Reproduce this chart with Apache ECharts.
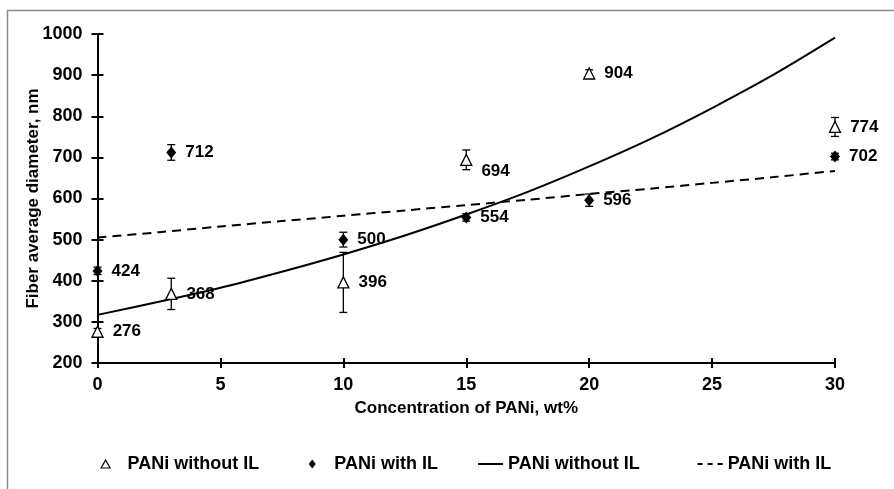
<!DOCTYPE html>
<html>
<head>
<meta charset="utf-8">
<script src="https://cdn.jsdelivr.net/npm/echarts@6/dist/echarts.min.js"></script>
<style>
  html, body { margin: 0; padding: 0; background: #fff; }
  #chart { width: 894px; height: 489px; }
</style>
</head>
<body>
<div id="chart"></div>
<script>
// PANi concentration (wt%) for each measured sample
const concentration = [0, 3, 10, 15, 20, 30];

// Mean fiber diameter, nm
const withoutIL = [276, 368, 396, 694, 904, 774];
const withIL = [424, 712, 500, 554, 596, 702];

// Standard deviation (half length of each error bar), nm
const withoutILErr = [8, 38, 73, 24, 9, 23];
const withIL_Err = [9, 19, 18, 9, 15, 8];

// Trend curves, read along the concentration axis
const trendX = [0, 2.5, 5, 7.5, 10, 12.5, 15, 17.5, 20, 22.5, 25, 27.5, 30];
const trendWithoutIL = [317, 349, 383, 422, 464, 510, 561, 616, 678, 745, 820, 901, 991];
const trendWithIL = [505, 518, 532, 545, 558, 571, 584, 597, 611, 624, 638, 652, 667];

// Axis ticks
const xTicks = { min: 0, max: 30, interval: 5 };
const yTicks = { min: 200, max: 1000, interval: 100 };

const FONT = 'Liberation Sans';
const pairs = (xs, ys) => xs.map((x, i) => [x, ys[i]]);
const errRows = (xs, ys, es) => xs.map((x, i) => [x, ys[i] - es[i], ys[i] + es[i]]);

const legendText = {
  'PANi without IL': 'PANi without IL',
  'PANi with IL': 'PANi with IL',
  'PANi without IL trend': 'PANi without IL',
  'PANi with IL trend': 'PANi with IL'
};

// Legend icons drawn in a fixed 25x10 box (corner points pin the box size)
const BOX = 'M0,0L0,0M25,10L25,10';
const ICON_TRIANGLE = 'path://' + BOX + 'M8,1L12.5,9L3.5,9Z';
const ICON_DIAMOND = 'path://' + BOX + 'M8,0.5L11.5,5L8,9.5L4.5,5Z';
const ICON_SOLID = 'path://' + BOX + 'M0,4L25,4L25,6L0,6Z';
const ICON_DASHED = 'path://' + BOX + 'M0,4h5v2h-5zM10,4h5v2h-5zM20,4h5v2h-5z';

function errorBar(params, api) {
  const x = api.value(0);
  const lo = api.coord([x, api.value(1)]);
  const hi = api.coord([x, api.value(2)]);
  const cap = 4;
  const style = { stroke: '#000', lineWidth: 1.3 };
  return {
    type: 'group',
    children: [
      { type: 'line', shape: { x1: lo[0], y1: lo[1], x2: hi[0], y2: hi[1] }, style },
      { type: 'line', shape: { x1: hi[0] - cap, y1: hi[1], x2: hi[0] + cap, y2: hi[1] }, style },
      { type: 'line', shape: { x1: lo[0] - cap, y1: lo[1], x2: lo[0] + cap, y2: lo[1] }, style }
    ]
  };
}

const textBase = { color: '#000', fontFamily: FONT, fontWeight: 'bold', textBorderWidth: 0 };

const axisCommon = {
  axisLine: { show: true, lineStyle: { color: '#000', width: 2 } },
  splitLine: { show: false },
  nameMoveOverlap: false,
  nameTextStyle: Object.assign({}, textBase, { fontSize: 17 })
};

const dataLabel = Object.assign({}, textBase, {
  show: true,
  position: 'right',
  distance: 9,
  fontSize: 17,
  opacity: 1,
  formatter: p => String(p.value[1])
});

const withoutPoints = pairs(concentration, withoutIL).map(v => {
  const item = { value: v };
  if (v[1] === 694) item.label = { offset: [0, 11] };
  return item;
});

const legendBase = {
  top: 455,
  padding: 0,
  itemWidth: 25,
  itemHeight: 10,
  textStyle: Object.assign({}, textBase, { fontSize: 18 }),
  formatter: n => legendText[n]
};

const chart = echarts.init(document.getElementById('chart'));
chart.setOption({
  backgroundColor: '#fff',
  animation: false,
  graphic: [{
    type: 'rect',
    shape: { x: 7.5, y: 10.5, width: 900, height: 500 },
    style: { fill: 'none', stroke: '#8c8c8c', lineWidth: 1.5 },
    silent: true
  }],
  grid: { left: 97.5, right: 59, top: 34, bottom: 126 },
  legend: [
    Object.assign({}, legendBase, {
      left: 97,
      itemGap: 45,
      data: [
        { name: 'PANi without IL', icon: ICON_TRIANGLE,
          itemStyle: { color: '#fff', borderColor: '#000', borderWidth: 1.2, opacity: 1 } },
        { name: 'PANi with IL', icon: ICON_DIAMOND,
          itemStyle: { color: '#000', borderWidth: 0, opacity: 1 } }
      ]
    }),
    Object.assign({}, legendBase, {
      left: 478,
      itemGap: 58,
      data: [
        { name: 'PANi without IL trend', icon: ICON_SOLID, itemStyle: { color: '#000', borderWidth: 0 } },
        { name: 'PANi with IL trend', icon: ICON_DASHED, itemStyle: { color: '#000', borderWidth: 0 } }
      ]
    })
  ],
  xAxis: [
    Object.assign({}, axisCommon, {
      type: 'value', min: xTicks.min, max: xTicks.max, interval: xTicks.interval,
      name: 'Concentration of PANi, wt%', nameLocation: 'middle', nameGap: 37,
      axisTick: { show: true, inside: false, length: 5, lineStyle: { color: '#000', width: 2 } },
      axisLabel: Object.assign({}, textBase, { fontSize: 18, margin: 13 })
    }),
    {
      type: 'value', min: xTicks.min, max: xTicks.max, interval: xTicks.interval,
      position: 'bottom', offset: 0,
      axisLine: { show: false }, splitLine: { show: false }, axisLabel: { show: false },
      axisTick: { show: true, inside: true, length: 5, lineStyle: { color: '#000', width: 2 } }
    }
  ],
  yAxis: [
    Object.assign({}, axisCommon, {
      type: 'value', min: yTicks.min, max: yTicks.max, interval: yTicks.interval,
      name: 'Fiber average diameter, nm', nameLocation: 'middle', nameGap: 56,
      axisTick: { show: true, inside: false, length: 6, lineStyle: { color: '#000', width: 2 } },
      axisLabel: Object.assign({}, textBase, { fontSize: 18, margin: 15, formatter: v => String(v) })
    }),
    {
      type: 'value', min: yTicks.min, max: yTicks.max, interval: yTicks.interval,
      position: 'left', offset: 0,
      axisLine: { show: false }, splitLine: { show: false }, axisLabel: { show: false },
      axisTick: { show: true, inside: true, length: 6, lineStyle: { color: '#000', width: 2 } }
    }
  ],
  series: [
    {
      name: 'PANi without IL trend', type: 'line', smooth: 0.3, symbol: 'none',
      lineStyle: { color: '#000', width: 2, type: 'solid' },
      itemStyle: { color: '#000' },
      data: pairs(trendX, trendWithoutIL), z: 2
    },
    {
      name: 'PANi with IL trend', type: 'line', smooth: 0.3, symbol: 'none',
      lineStyle: { color: '#000', width: 2, type: [9, 6] },
      itemStyle: { color: '#000' },
      data: pairs(trendX, trendWithIL), z: 2
    },
    {
      type: 'custom', renderItem: errorBar, silent: true, z: 3,
      encode: { x: 0, y: [1, 2] },
      data: errRows(concentration, withoutIL, withoutILErr)
    },
    {
      type: 'custom', renderItem: errorBar, silent: true, z: 3,
      encode: { x: 0, y: [1, 2] },
      data: errRows(concentration, withIL, withIL_Err)
    },
    {
      name: 'PANi without IL', type: 'scatter', symbol: 'triangle', symbolSize: [11, 11], z: 4,
      itemStyle: { color: '#fff', borderColor: '#000', borderWidth: 1.3, opacity: 1 },
      label: dataLabel,
      data: withoutPoints
    },
    {
      name: 'PANi with IL', type: 'scatter', symbol: 'diamond', symbolSize: [10, 12], z: 4,
      itemStyle: { color: '#000', opacity: 1 },
      label: dataLabel,
      data: pairs(concentration, withIL)
    }
  ]
});
</script>
</body>
</html>
